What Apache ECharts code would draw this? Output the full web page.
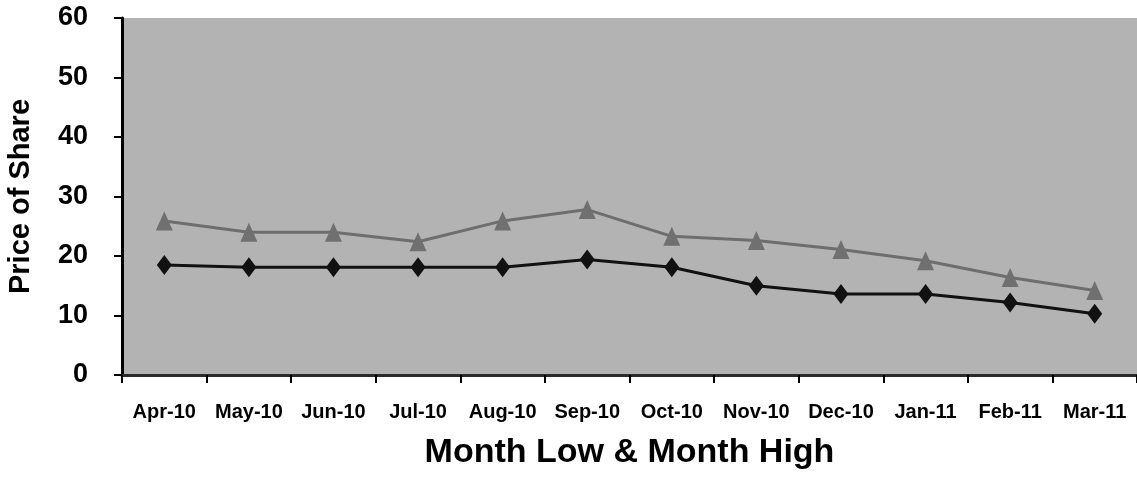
<!DOCTYPE html>
<html>
<head>
<meta charset="utf-8">
<script src="https://cdn.jsdelivr.net/npm/echarts@6/dist/echarts.min.js"></script>
<style>
html,body{margin:0;padding:0;background:#fff;}
#chart{width:1137px;height:481px;}
</style>
</head>
<body>
<div id="chart"></div>
<script>
var categories = ['Apr-10','May-10','Jun-10','Jul-10','Aug-10','Sep-10','Oct-10','Nov-10','Dec-10','Jan-11','Feb-11','Mar-11'];
var monthLow = [18.5, 18.1, 18.1, 18.1, 18.1, 19.4, 18.1, 15.0, 13.6, 13.6, 12.2, 10.3];
var monthHigh = [25.9, 24.0, 24.0, 22.4, 25.9, 27.8, 23.3, 22.6, 21.1, 19.2, 16.4, 14.2];
var yTicks = [0, 10, 20, 30, 40, 50, 60];

var chart = echarts.init(document.getElementById('chart'));
var font = '"Liberation Sans", Arial, sans-serif';
chart.setOption({
  animation: false,
  grid: {left: 122, right: 0, top: 18, bottom: 106, show: true, backgroundColor: '#b3b3b3', borderWidth: 0, outerBoundsMode: 'none', containLabel: false},
  xAxis: {
    type: 'category',
    data: categories,
    boundaryGap: true,
    name: 'Month Low & Month High',
    nameLocation: 'middle',
    nameGap: 61,
    nameTextStyle: {fontFamily: font, fontWeight: 'bold', fontSize: 34, color: '#000'},
    axisLine: {lineStyle: {color: '#2a2a2a', width: 3}},
    axisTick: {show: true, alignWithLabel: false, length: 8, lineStyle: {color: '#000', width: 2}},
    axisLabel: {fontFamily: font, fontWeight: 'bold', fontSize: 20, color: '#000', margin: 27, interval: 0},
    splitLine: {show: false}
  },
  yAxis: {
    type: 'value',
    min: yTicks[0],
    max: yTicks[yTicks.length - 1],
    interval: 10,
    name: 'Price of Share',
    nameLocation: 'middle',
    nameGap: 87,
    nameTextStyle: {fontFamily: font, fontWeight: 'bold', fontSize: 29, color: '#000', padding: [0, 0, 0, 0]},
    axisLine: {show: true, lineStyle: {color: '#000', width: 3}},
    axisTick: {show: true, length: 8, lineStyle: {color: '#000', width: 2}},
    axisLabel: {fontFamily: font, fontWeight: 'bold', fontSize: 27, color: '#000', margin: 34, padding: [8, 0, 0, 0]},
    splitLine: {show: false}
  },
  series: [
    {
      name: 'Month High',
      type: 'line',
      data: monthHigh,
      symbol: 'triangle',
      symbolSize: [17, 19],
      lineStyle: {color: '#6e6e6e', width: 3},
      itemStyle: {color: '#707070'},
      z: 2
    },
    {
      name: 'Month Low',
      type: 'line',
      data: monthLow,
      symbol: 'diamond',
      symbolSize: [15, 20],
      lineStyle: {color: '#111', width: 3},
      itemStyle: {color: '#111'},
      z: 3
    }
  ]
});
</script>
</body>
</html>
